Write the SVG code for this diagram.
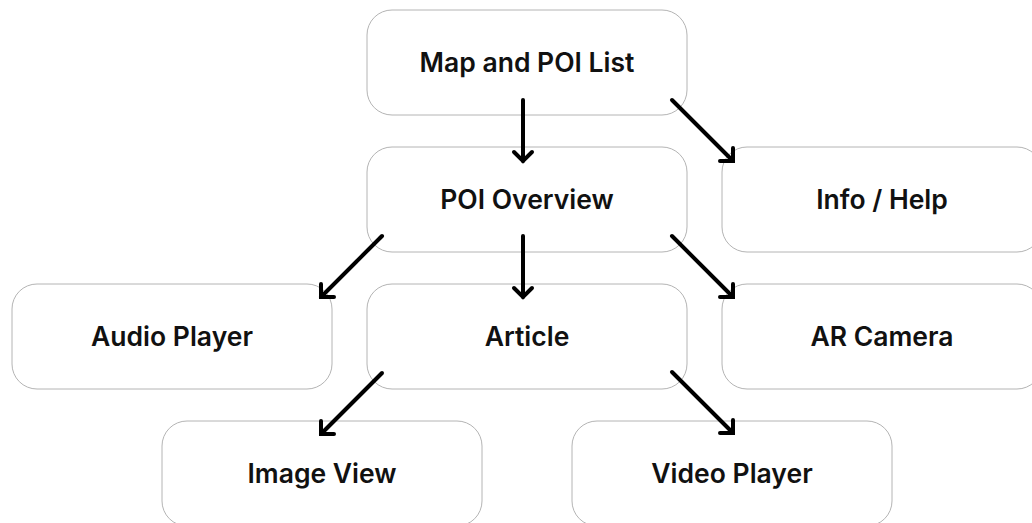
<svg xmlns="http://www.w3.org/2000/svg" width="1032" height="523" viewBox="0 0 1032 523">
  <defs>
    <style>
      .box { fill: #ffffff; stroke: #b4b4b4; stroke-width: 1; }
      .label { font-family: Inter, "Liberation Sans", sans-serif; font-size: 26.5px; font-weight: 600; fill: #111111; text-anchor: middle; }
      .edge { stroke: #000000; stroke-width: 4; fill: none; stroke-linecap: round; }
      .head { stroke: #000000; stroke-width: 4; fill: none; stroke-linecap: round; stroke-linejoin: miter; }
    </style>
  </defs>
  <rect width="1032" height="523" fill="#ffffff"/>

  <g id="node-map">
    <rect class="box" x="367" y="10" width="320" height="105" rx="25"/>
    <text class="label" x="527" y="72">Map and POI List</text>
  </g>
  <g id="node-overview">
    <rect class="box" x="367" y="147" width="320" height="105" rx="25"/>
    <text class="label" x="527" y="209">POI Overview</text>
  </g>
  <g id="node-info">
    <rect class="box" x="722" y="147" width="320" height="105" rx="25"/>
    <text class="label" x="882" y="209">Info / Help</text>
  </g>
  <g id="node-audio">
    <rect class="box" x="12" y="284" width="320" height="105" rx="25"/>
    <text class="label" x="172" y="346">Audio Player</text>
  </g>
  <g id="node-article">
    <rect class="box" x="367" y="284" width="320" height="105" rx="25"/>
    <text class="label" x="527" y="346">Article</text>
  </g>
  <g id="node-ar">
    <rect class="box" x="722" y="284" width="320" height="105" rx="25"/>
    <text class="label" x="882" y="346">AR Camera</text>
  </g>
  <g id="node-image">
    <rect class="box" x="162" y="421" width="320" height="105" rx="25"/>
    <text class="label" x="322" y="483">Image View</text>
  </g>
  <g id="node-video">
    <rect class="box" x="572" y="421" width="320" height="105" rx="25"/>
    <text class="label" x="732" y="483">Video Player</text>
  </g>

  <g id="connectors">
    <!-- map -> overview -->
    <line class="edge" x1="523" y1="100" x2="523" y2="161"/>
    <polyline class="head" points="514,152 523,161 532,152"/>
    <!-- map -> info -->
    <line class="edge" x1="672" y1="100" x2="733" y2="161"/>
    <polyline class="head" points="720,161 733,161 733,148"/>
    <!-- overview -> article -->
    <line class="edge" x1="523" y1="236" x2="523" y2="297"/>
    <polyline class="head" points="514,288 523,297 532,288"/>
    <!-- overview -> audio -->
    <line class="edge" x1="382" y1="236" x2="321" y2="297"/>
    <polyline class="head" points="321,284 321,297 334,297"/>
    <!-- overview -> ar -->
    <line class="edge" x1="672" y1="236" x2="733" y2="297"/>
    <polyline class="head" points="720,297 733,297 733,284"/>
    <!-- article -> image -->
    <line class="edge" x1="382" y1="373" x2="321" y2="434"/>
    <polyline class="head" points="321,421 321,434 334,434"/>
    <!-- article -> video -->
    <line class="edge" x1="672" y1="372" x2="733" y2="433"/>
    <polyline class="head" points="720,433 733,433 733,420"/>
  </g>
</svg>
